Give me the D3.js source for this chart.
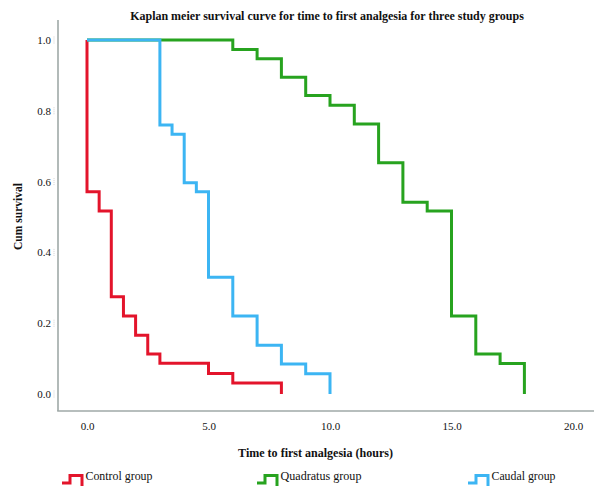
<!DOCTYPE html>
<html>
<head>
<meta charset="utf-8">
<script src="https://cdn.jsdelivr.net/npm/d3@7"></script>
<style>
  html, body { margin: 0; padding: 0; background: #fff; }
  svg { display: block; }
  text { font-family: "Liberation Serif", "DejaVu Serif", serif; fill: #111; }
</style>
</head>
<body>
<svg id="chart" width="594" height="486"></svg>
<script>
// ---- Data ----
const groups = ["Control group", "Quadratus group", "Caudal group"];
const colors = ["#e3142b", "#27a31f", "#3cb5f3"];
const xTicks = [0, 5, 10, 15, 20];
const yTicks = [0, 0.2, 0.4, 0.6, 0.8, 1.0];

const controlTime = [0, 0, 0.5, 1, 1.5, 2, 2.5, 3, 5, 6, 8];
const controlSurv = [1, 0.571, 0.517, 0.275, 0.22, 0.166, 0.113, 0.087, 0.058, 0.031, 0];

const quadratusTime = [0, 6, 7, 8, 9, 10, 11, 12, 13, 14, 15, 16, 17, 18];
const quadratusSurv = [1, 0.973, 0.947, 0.895, 0.843, 0.816, 0.763, 0.653, 0.542, 0.517, 0.22, 0.113, 0.086, 0];

const caudalTime = [0, 3, 3.5, 4, 4.5, 5, 6, 7, 8, 9, 10];
const caudalSurv = [1, 0.76, 0.734, 0.597, 0.571, 0.33, 0.22, 0.138, 0.085, 0.057, 0];

const title = "Kaplan meier survival curve for time to first analgesia for three study groups";
const xLabel = "Time to first analgesia (hours)";
const yLabel = "Cum survival";

// ---- Layout ----
const svg = d3.select("#chart");
const x = d3.scaleLinear().domain([0, 20]).range([87, 573]);
const y = d3.scaleLinear().domain([0, 1]).range([394, 40]);
const axisX = 58, axisY = 411;
const axisColor = "#9fa9a7";

// axis lines (L-shaped frame)
svg.append("line").attr("x1", axisX).attr("x2", axisX).attr("y1", 20).attr("y2", axisY)
  .attr("stroke", axisColor).attr("stroke-width", 1.6);
svg.append("line").attr("x1", axisX - 0.8).attr("x2", 594).attr("y1", axisY).attr("y2", axisY)
  .attr("stroke", axisColor).attr("stroke-width", 1.6);

const tickFont = '"Liberation Serif", serif';
// x axis
const gx = svg.append("g").attr("transform", `translate(0,${axisY})`)
  .call(d3.axisBottom(x).tickValues(xTicks).tickFormat(d3.format(".1f")).tickSize(0).tickPadding(11));
gx.select(".domain").remove();
gx.selectAll("text").style("font-family", tickFont).style("font-size", "11px").attr("fill", "#1a1a1a");

// y axis
const gy = svg.append("g").attr("transform", `translate(${axisX},0)`)
  .call(d3.axisLeft(y).tickValues(yTicks).tickFormat(d3.format(".1f")).tickSize(0).tickPadding(7));
gy.select(".domain").remove();
gy.selectAll("text").style("font-family", tickFont).style("font-size", "11px").attr("fill", "#1a1a1a");
// faint tick marks next to y labels
gy.selectAll(".tick").append("line")
  .attr("x1", -4).attr("x2", -4).attr("y1", -4).attr("y2", 4)
  .attr("stroke", "#c8c8c8").attr("stroke-width", 0.8).attr("stroke-dasharray", "1,1");

// survival step curves
const line = d3.line().x(d => x(d[0])).y(d => y(d[1])).curve(d3.curveStepAfter);
const series = [
  d3.zip(controlTime, controlSurv),
  d3.zip(quadratusTime, quadratusSurv),
  d3.zip(caudalTime, caudalSurv)
];
series.forEach((s, i) => {
  svg.append("path").datum(s).attr("d", line)
    .attr("fill", "none").attr("stroke", colors[i]).attr("stroke-width", 3)
    .attr("stroke-linejoin", "miter").attr("stroke-linecap", "butt");
});

// helper: fit text to target width
function fit(sel, w) {
  const len = sel.node().getComputedTextLength();
  const fs = parseFloat(sel.style("font-size"));
  sel.style("font-size", (fs * w / len).toFixed(2) + "px");
}

// title
const t = svg.append("text").attr("x", 327).attr("y", 19.5).attr("text-anchor", "middle")
  .style("font-weight", "bold").style("font-size", "11px").text(title);
fit(t, 394);

// x label
const xl = svg.append("text").attr("x", 315.5).attr("y", 457).attr("text-anchor", "middle")
  .style("font-weight", "bold").style("font-size", "11px").text(xLabel);
fit(xl, 155);

// y label
const yl = svg.append("text").attr("transform", "translate(21.5,216.5) rotate(-90)").attr("text-anchor", "middle")
  .style("font-weight", "bold").style("font-size", "11px").text(yLabel);
fit(yl, 67);

// legend
const legendX = [62, 257, 468];
const legendW = [67, 81, 64];
groups.forEach((g, i) => {
  const lx = legendX[i];
  svg.append("path")
    .attr("d", `M${lx},483 H${lx + 8} V475.5 H${lx + 20} V486`)
    .attr("fill", "none").attr("stroke", colors[i]).attr("stroke-width", 3);
  const tx = svg.append("text").attr("x", lx + 23.5).attr("y", 480)
    .style("font-size", "12px").text(g);
  fit(tx, legendW[i]);
});
</script>
</body>
</html>
